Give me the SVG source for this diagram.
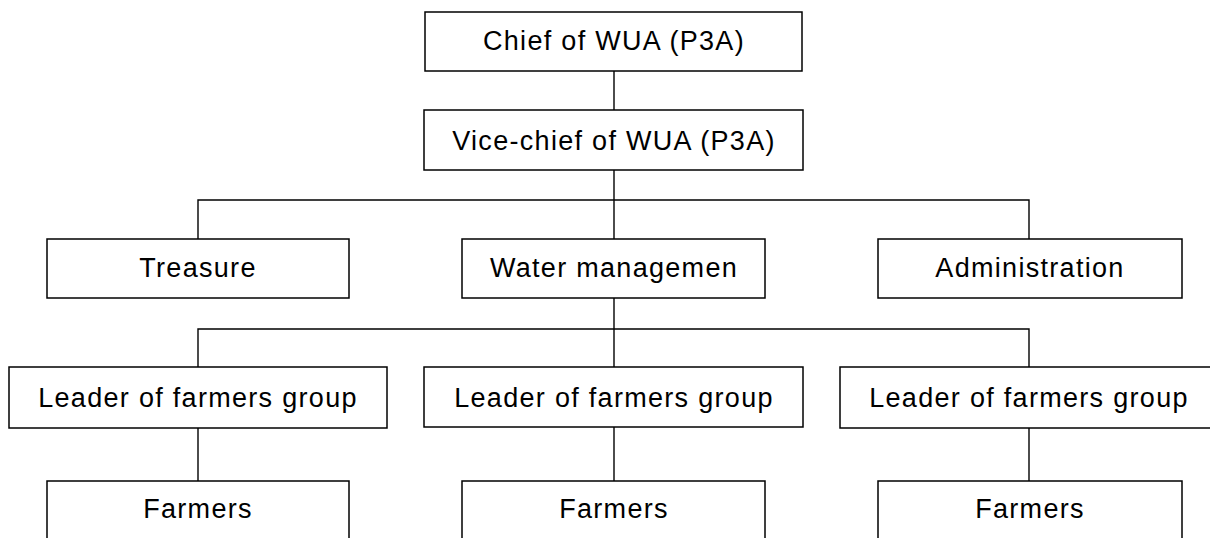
<svg xmlns="http://www.w3.org/2000/svg" width="1210" height="538" viewBox="0 0 1210 538">
  <style>
    .box { fill: #ffffff; stroke: #000000; stroke-width: 1.5; }
    .lbl { font-family: "Liberation Sans", "Noto Sans CJK JP", sans-serif; font-size: 27px; letter-spacing: 1.3px; fill: #000000; text-anchor: middle; }
    .wire { fill: none; stroke: #000000; stroke-width: 1.4; }
  </style>
  <rect width="1210" height="538" fill="#ffffff"/>

  <!-- connectors -->
  <g id="connectors">
    <line class="wire" x1="614" y1="71" x2="614" y2="110"/>
    <line class="wire" x1="614" y1="170" x2="614" y2="239"/>
    <polyline class="wire" points="198,239 198,200 1029,200 1029,239"/>
    <line class="wire" x1="614" y1="298" x2="614" y2="367"/>
    <polyline class="wire" points="198,367 198,329 1029,329 1029,367"/>
    <line class="wire" x1="198" y1="428" x2="198" y2="481"/>
    <line class="wire" x1="614" y1="427" x2="614" y2="481"/>
    <line class="wire" x1="1029" y1="428" x2="1029" y2="481"/>
  </g>

  <!-- level 0 -->
  <g id="chief">
    <rect class="box" x="425" y="12" width="377" height="59"/>
    <text class="lbl" x="614" y="50">Chief of WUA (P3A)</text>
  </g>
  <g id="vice-chief">
    <rect class="box" x="424" y="110" width="379" height="60"/>
    <text class="lbl" x="614" y="150">Vice-chief of WUA (P3A)</text>
  </g>

  <!-- level 1 -->
  <g id="treasure">
    <rect class="box" x="47" y="239" width="302" height="59"/>
    <text class="lbl" x="198" y="277">Treasure</text>
  </g>
  <g id="water-management">
    <rect class="box" x="462" y="239" width="303" height="59"/>
    <text class="lbl" x="614" y="277">Water managemen</text>
  </g>
  <g id="administration">
    <rect class="box" x="878" y="239" width="304" height="59"/>
    <text class="lbl" x="1030" y="277">Administration</text>
  </g>

  <!-- level 2 -->
  <g id="leader-1">
    <rect class="box" x="9" y="367" width="378" height="61"/>
    <text class="lbl" x="198" y="407">Leader of farmers group</text>
  </g>
  <g id="leader-2">
    <rect class="box" x="424" y="367" width="379" height="60"/>
    <text class="lbl" x="614" y="407">Leader of farmers group</text>
  </g>
  <g id="leader-3">
    <rect class="box" x="840" y="367" width="378" height="61"/>
    <text class="lbl" x="1029" y="407">Leader of farmers group</text>
  </g>

  <!-- level 3 -->
  <g id="farmers-1">
    <rect class="box" x="47" y="481" width="302" height="70"/>
    <text class="lbl" x="198" y="518">Farmers</text>
  </g>
  <g id="farmers-2">
    <rect class="box" x="462" y="481" width="303" height="70"/>
    <text class="lbl" x="614" y="518">Farmers</text>
  </g>
  <g id="farmers-3">
    <rect class="box" x="878" y="481" width="304" height="70"/>
    <text class="lbl" x="1030" y="518">Farmers</text>
  </g>
</svg>
